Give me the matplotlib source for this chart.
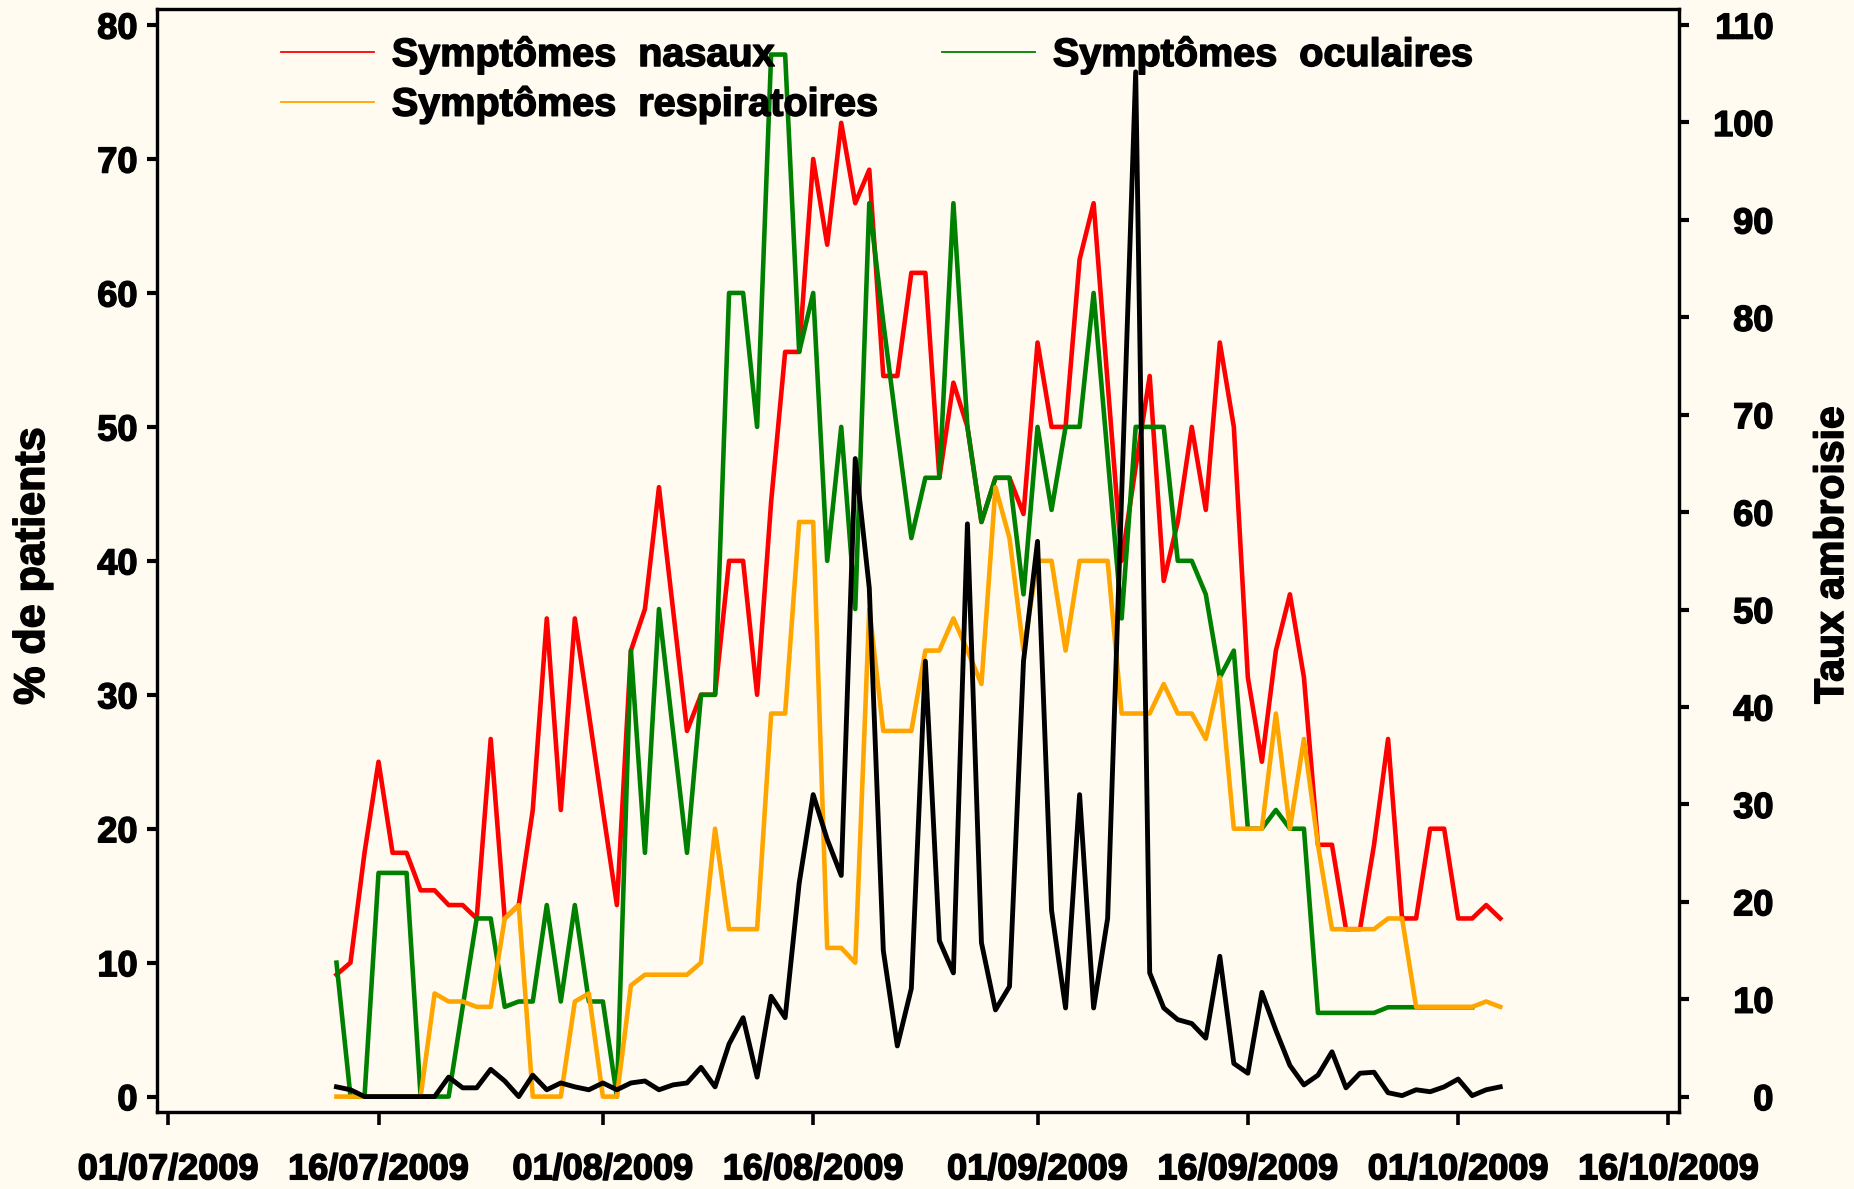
import numpy as np
import pandas as pd
import matplotlib
matplotlib.use("Agg")
import matplotlib.pyplot as plt
import matplotlib.dates as mdates
import matplotlib.patheffects as pe
from matplotlib.lines import Line2D

plt.rcParams['font.family'] = ['Liberation Sans', 'DejaVu Sans']
plt.rcParams['font.weight'] = 'bold'

# ---------------- data ----------------
start_date = "2009-07-13"
n_days = 84
dates = pd.date_range(start_date, periods=n_days, freq="D")

nasaux = [9.1, 10.0, 18.2, 25.0, 18.2, 18.2, 15.4, 15.4, 14.3, 14.3,
          13.3, 26.7, 13.3, 14.3, 21.4, 35.7, 21.4, 35.7, 28.6, 21.4,
          14.3, 33.3, 36.4, 45.5, 36.4, 27.3, 30.0, 30.0, 40.0, 40.0,
          30.0, 44.4, 55.6, 55.6, 70.0, 63.6, 72.7, 66.7, 69.2, 53.8,
          53.8, 61.5, 61.5, 46.2, 53.3, 50.0, 42.9, 46.2, 46.2, 43.5,
          56.3, 50.0, 50.0, 62.5, 66.7, 53.3, 40.0, 47.0, 53.8, 38.5,
          42.9, 50.0, 43.8, 56.3, 50.0, 31.3, 25.0, 33.3, 37.5, 31.3,
          18.8, 18.8, 12.5, 12.5, 18.8, 26.7, 13.3, 13.3, 20.0, 20.0,
          13.3, 13.3, 14.3, 13.3]

oculaires = [10.0, 0.0, 0.0, 16.7, 16.7, 16.7, 0.0, 0.0, 0.0, 6.7,
             13.3, 13.3, 6.7, 7.1, 7.1, 14.3, 7.1, 14.3, 7.1, 7.1,
             0.0, 33.3, 18.2, 36.4, 27.3, 18.2, 30.0, 30.0, 60.0, 60.0,
             50.0, 77.8, 77.8, 55.6, 60.0, 40.0, 50.0, 36.4, 66.7, 57.8,
             49.6, 41.7, 46.2, 46.2, 66.7, 50.0, 42.9, 46.2, 46.2, 37.5,
             50.0, 43.8, 50.0, 50.0, 60.0, 47.8, 35.7, 50.0, 50.0, 50.0,
             40.0, 40.0, 37.5, 31.3, 33.3, 20.0, 20.0, 21.4, 20.0, 20.0,
             6.25, 6.25, 6.25, 6.25, 6.25, 6.67, 6.67, 6.67, 6.67, 6.67,
             6.67, 6.67, np.nan, np.nan]

respiratoires = [0.0, 0.0, 0.0, 0.0, 0.0, 0.0, 0.0, 7.7, 7.1, 7.1,
                 6.7, 6.7, 13.3, 14.3, 0.0, 0.0, 0.0, 7.1, 7.7, 0.0,
                 0.0, 8.3, 9.1, 9.1, 9.1, 9.1, 10.0, 20.0, 12.5, 12.5,
                 12.5, 28.6, 28.6, 42.9, 42.9, 11.1, 11.1, 10.0, 36.4, 27.3,
                 27.3, 27.3, 33.3, 33.3, 35.7, 33.3, 30.8, 45.5, 41.7, 33.3,
                 40.0, 40.0, 33.3, 40.0, 40.0, 40.0, 28.6, 28.6, 28.6, 30.8,
                 28.6, 28.6, 26.7, 31.3, 20.0, 20.0, 20.0, 28.6, 20.0, 26.7,
                 18.8, 12.5, 12.5, 12.5, 12.5, 13.3, 13.3, 6.7, 6.7, 6.7,
                 6.7, 6.7, 7.1, 6.7]

ambroisie = [1.0, 0.7, 0.0, 0.0, 0.0, 0.0, 0.0, 0.0, 2.0, 0.9,
             0.9, 2.8, 1.6, 0.0, 2.2, 0.7, 1.4, 1.0, 0.7, 1.4,
             0.7, 1.4, 1.6, 0.7, 1.2, 1.4, 3.0, 1.0, 5.4, 8.1,
             2.0, 10.3, 8.1, 21.9, 31.0, 26.4, 22.7, 65.5, 52.2, 15.0,
             5.2, 11.1, 44.7, 16.0, 12.7, 58.8, 15.8, 8.9, 11.3, 44.7,
             57.0, 19.1, 9.1, 31.0, 9.1, 18.3, 61.8, 105.2, 12.7, 9.1,
             7.9, 7.5, 6.0, 14.4, 3.4, 2.4, 10.7, 6.8, 3.2, 1.2,
             2.2, 4.6, 0.9, 2.4, 2.5, 0.4, 0.1, 0.7, 0.5, 1.0,
             1.8, 0.1, 0.7, 1.0]

series_labels = ["Symptômes  nasaux", "Symptômes  respiratoires", "Symptômes  oculaires"]
left_ylabel = "% de patients"
right_ylabel = "Taux ambroisie"
xtick_dates = ["2009-07-01", "2009-07-16", "2009-08-01", "2009-08-16",
               "2009-09-01", "2009-09-16", "2009-10-01", "2009-10-16"]
left_yticks = [0, 10, 20, 30, 40, 50, 60, 70, 80]
right_yticks = [0, 10, 20, 30, 40, 50, 60, 70, 80, 90, 100, 110]

# ---------------- style ----------------
fs_tick = 26
fs_leg = 28.5
heavy = [pe.withStroke(linewidth=1.1, foreground="black")]

BG = "#fffbf0"
W, H = 1854, 1189
fig = plt.figure(figsize=(W / 100, H / 100), dpi=100, facecolor=BG)
left_px, right_px, top_px, bot_px = 157, 1679, 9, 1112
ax = fig.add_axes([left_px / W, 1 - bot_px / H, (right_px - left_px) / W, (bot_px - top_px) / H])
ax.set_facecolor(BG)

lw = 3.3
ax.plot(dates, nasaux, color="#ff0000", lw=lw, zorder=2)
ax.plot(dates, oculaires, color="#008000", lw=lw, zorder=3)
ax.plot(dates, respiratoires, color="#ffa500", lw=lw, zorder=4)

ax2 = ax.twinx()
ax2.plot(dates, ambroisie, color="black", lw=3.5, zorder=5)

x0 = pd.Timestamp("2009-07-01")
ax.set_xlim(x0 - pd.Timedelta(days=0.8), x0 + pd.Timedelta(days=107.75))
y_lo, y_hi = -1.15, 81.2
ax.set_ylim(y_lo, y_hi)
ax2.set_ylim(y_lo * 110 / 80, y_hi * 110 / 80)

ax.set_xticks(pd.to_datetime(xtick_dates))
ax.xaxis.set_major_formatter(mdates.DateFormatter("%d/%m/%Y"))
ax.set_yticks(left_yticks)
ax2.set_yticks(right_yticks)

for a in (ax, ax2):
    for s in a.spines.values():
        s.set_linewidth(2.3)
        s.set_color("black")

ax.tick_params(axis="x", direction="out", length=9, width=2.6, pad=20, labelsize=fs_tick)
ax.tick_params(axis="y", direction="out", length=7, width=3, pad=7, labelsize=fs_tick)
ax2.tick_params(axis="y", direction="out", length=7, width=3, pad=61, labelsize=fs_tick)
for lab in ax2.get_yticklabels():
    lab.set_horizontalalignment("right")
for lab in ax.get_xticklabels() + ax.get_yticklabels() + ax2.get_yticklabels():
    lab.set_fontweight("bold")
    lab.set_path_effects(heavy)

ax.set_ylabel(left_ylabel, fontsize=31, fontweight="bold", path_effects=heavy)
ax.yaxis.set_label_coords((53 - left_px) / (right_px - left_px), 0.4946)
ax2.set_ylabel(right_ylabel, fontsize=29.5, fontweight="bold", rotation=90, path_effects=heavy)
ax2.yaxis.set_label_coords((1813 - left_px) / (right_px - left_px), 0.505)

handles = [Line2D([], [], color="#ff0000", lw=1.3),
           Line2D([], [], color="#ffa500", lw=1.3),
           Line2D([], [], color="#008000", lw=1.3)]
leg = fig.legend(handles, [series_labels[0], series_labels[1], series_labels[2]],
                 ncol=2, loc="upper left", bbox_to_anchor=(281 / W, 1 - 35 / H),
                 frameon=False, handlelength=2.35, handletextpad=0.45,
                 columnspacing=1.6, labelspacing=0.27, borderpad=0, borderaxespad=0,
                 prop={"weight": "bold", "size": fs_leg})
for t in leg.get_texts():
    t.set_path_effects(heavy)

fig.savefig("out.png", dpi=100, facecolor=BG)
